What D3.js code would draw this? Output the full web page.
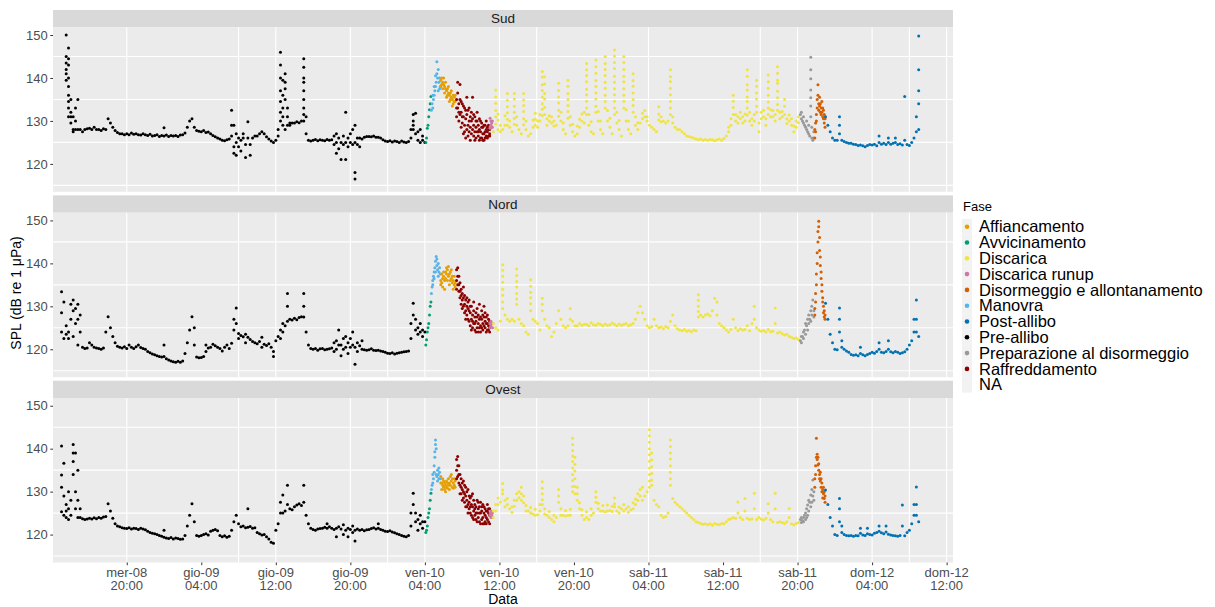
<!DOCTYPE html>
<html><head><meta charset="utf-8">
<script src="https://cdn.jsdelivr.net/npm/d3@7"></script>
<style>body{margin:0;background:#fff;} svg{display:block;font-family:"Liberation Sans",Arial,sans-serif;}</style>
</head><body><svg id="c" width="1215" height="607"></svg>
<script>
// ---------------- DATA ----------------
const phaseNames = ["Affiancamento","Avvicinamento","Discarica","Discarica runup","Disormeggio e allontanamento","Manovra","Post-allibo","Pre-allibo","Preparazione al disormeggio","Raffreddamento","NA"];
const phaseColors = ["#E69F00","#009E73","#F0E442","#CC79A7","#D55E00","#56B4E9","#0072B2","#000000","#999999","#8B0000",null];
const panelNames = ["Sud","Nord","Ovest"];

// time-ordered phase segments (same for all hydrophones)
const segPhase = ["Pre-allibo","Avvicinamento","Manovra","Affiancamento","Raffreddamento","Discarica runup","Discarica","Preparazione al disormeggio","Disormeggio e allontanamento","Post-allibo"];
const segStart = ["2022-06-08 13:00","2022-06-10 04:06","2022-06-10 04:42","2022-06-10 05:42","2022-06-10 07:24","2022-06-10 11:00","2022-06-10 11:21","2022-06-11 20:18","2022-06-11 21:51","2022-06-11 23:00"];
const segEnd   = ["2022-06-10 04:00","2022-06-10 04:39","2022-06-10 05:39","2022-06-10 07:15","2022-06-10 10:57","2022-06-10 11:15","2022-06-11 20:06","2022-06-11 21:45","2022-06-11 22:57","2022-06-12 09:00"];

const xDomain = ["2022-06-08 12:05","2022-06-12 12:41"];
const yDomain = [113.5, 151.8];
const yTicks = [120,130,140,150];
const yGrid = [115,125,135,145];
const xGridTimes = ["2022-06-08 20:00","2022-06-09 08:00","2022-06-09 12:00","2022-06-09 20:00","2022-06-10 00:00","2022-06-10 04:00","2022-06-10 12:00","2022-06-10 16:00","2022-06-11 04:00","2022-06-11 16:00","2022-06-11 20:00","2022-06-12 04:00","2022-06-12 08:00","2022-06-12 12:00"];
const xTickTimes = ["2022-06-08 20:00","2022-06-09 04:00","2022-06-09 12:00","2022-06-09 20:00","2022-06-10 04:00","2022-06-10 12:00","2022-06-10 20:00","2022-06-11 04:00","2022-06-11 12:00","2022-06-11 20:00","2022-06-12 04:00","2022-06-12 12:00"];
const xTickDay  = ["mer-08","gio-09","gio-09","gio-09","ven-10","ven-10","ven-10","sab-11","sab-11","sab-11","dom-12","dom-12"];
const xTickHour = ["20:00","04:00","12:00","20:00","04:00","12:00","20:00","04:00","12:00","20:00","04:00","12:00"];

// ---- Sud ----
const sudPre = [null,null,[145,150,143.5,142,141,139.5],[147,144.5,143,140,138,136,134.5,133,131],
[135,131,132,129.5],[131,128,127.5],[133,130,128],[135,128],
128,127.5,128,128.2, 128.3,128,128.5,128, 128,127.8,128.2,128, 130.5,129.5,128.5,127.8,
127.3,127,127,126.8, 127,126.8,127.2,126.9, 127,126.8,126.7,127, 126.8,126.6,126.9,126.5,
126.6,126.8,126.4,126.6, [126.5,128.4],126.7,126.4,126.6, 126.5,126.6,126.4,126.7, 126.8,127.2,128.5,130,
130.5,128.5,127.8,127.6, 127.5,127.8,127.3,127.4, 127,126.6,126.3,126, 125.8,125.5,125.4,125.6,
125.8,[126.5,132.5,129],[124,129,122.5],[125,122,127], [124,126],[125.5,123],[127,126],[124.5,121.5],
[129.8,126],[124.5,122],126,126.5, 126.5,127,127.5,127, 126.3,125.8,125.3,125,
125.5,[126.5,128],[130,132,134.5,137,140,143,146],[129,131,133,136,139.5], [128,141,139,137.5,135],[133,129,131],[129,129.5],129.5,
129.5,129.8,129.6,130, [130,131.5,133,135,137,139,140,142.5,144.5],[131,127],125.5,125.3,
125.5,125.7,125.4,125.6, 125.5,125.4,125.7,125.5, 125.6,[124.5,126.5],[125,122.5,127],[126,123.5],
[125,121],[124.5,126.5],[132,121,125],[126,124], [125,127],[124.5,128],[125,129,118,116.5],[124.5,126],
[124,126],125.8,126.2,126.4, 126.4,126.3,126.5,126.2, 126.2,126,125.6,125.3, 125.2,125.4,125.1,125.3,
125.2,125,125.3,125.1, 125,125.2,[126,128],[128,131.5,129,130], [131.8,127],[125.5,127.5],[125,128],[125.5,126.5], 125];
const sudAvv = [125,126,128.3,129,131,132.6,134,135.7];
const sudMan = [132.5,134,[133,136],135,[136,138],137,[138,140.5],139,[141,143.8],140,[142,137],139,[140,137.5],138];
const sudAff = [[139.5,138],[140,138.5],[139,137.5],[138.5,140],[138,136.5],[137.5,139],[137,135.5],[137.5,136],[136.5,138],[136,134.5],[136.5,135],[135.5,137],[135,133.5],[136,134],[135.5,134.5],[134.5,136]];
const sudRaf = [[131,135,133],[139,133,136.5],[134,130,132],[138.5,131.5,135],[132,128.5,134.5],[129.5,134,131],[127,131,133.5],[133,129,127.5],[126,130.5,132.5],[131.5,128,135.5],[129,132.5,126.5],[127.5,130,133],[125.5,128.5,131],[130,127,132],[135.5,128,130.5],[129,126.5,131.5],[127.5,131,125.5],[128.5,126,130],[130,127.5,132],[126.5,129,127.5],[128,125.5,130.5],[127.5,130,126],[126,128.5,129.5],[128.5,127,125.5],[127,125.5,129],[129,127.5,126],[126.5,128,130],[127.5,126,128.5],[128,129,126.5],[127,126.5,128]];
const sudRun = [[128.3,130.6],[129,130],[128.5,129.5],[130,128.5]];
const sudDis = [127.5,[137.2,135.6,134.1,132.4,131,129.3],[128,130.2,131.6],[127.5,129],
128,[129,131.2],[136.4,134.8,133.3,131.9,130.4,129],[128.5,130],
127.5,[136.4,135.1,133.4,132,130.6,129.2],[129,131],128,
127,[136.4,134.9,133.6,132.2,130.5,129.1],[128,130],126.5,
127,[128.5,130.2],[131.8,130.4,129],[130,128.5],
[130,131.5],[141.5,140.2,138.4,137.1,135.6,134,132.7,131.2],[140.3,138.6,136.4,135.1,133.2,131.5],[130.5,129],
[130,131.2],[129.5,131],[130,128.8],129,
[138.8,137.1,135.6,134.2,132.5,131.1],[130,132],[128,129.5],127,
[139.5,138.1,136.4,135,133.6,132.2,130.6],[129,131],[127.5,129.2],126.5,
[127,128.8],[128.5,130.4],[130,131.6],[132,129.5],
[143.4,141.9,140.6,139.1,137.4,136.1,134.6,133,131.5],[129,131.5],[127.5,129.8],127,
[144.2,142.6,141.1,139.4,138,136.5,135.1,133.4,132],[130,132.2],[128,130],127,
[145,143.4,142,140.6,139,137.6,136,134.5,133],[130,132.4],[128.5,130.6],127,
[146.5,145.1,143.6,142.2,140.4,139,137.5,136.1,134.6,133,131.5],[129.5,132],[128,130.1],126.5,
[145,143.6,142,140.4,139.1,137.5,136,134.6,133],[130,132.6],[128,130],127,
[141,139.4,138.1,136.5,135,133.6,132],[129,131],[128,129.6],129.5,
[131.8,130.5],[131,132.4],[130,131],129,
128.5,128,127.5,[133.3,131.6,130.2],
[131,129.8],130,129.5,130,
[141.9,140.3,139.2,137.6,136.1,134.5,133,131.5],[129.5,131],128.5,128,
128,127.5,127,126.5, 126.4,126.2,126,125.8, 125.6,125.8,125.5,125.7, 125.5,125.7,125.6,125.4, 125.6,125.8,125.5,125.9,
126.5,[127.5,128.5],[129,130.5],[136,134.6,133.1,131.5],
[130,131.5],[129.5,131],[130.5,132],[131,129.5],
[130,131.6],[141.9,140.4,138.4,137.2,135.6,134.5,133,131.4],[130,132],[129,130.5],
[130,131.5],[139.5,138.1,136.5,135.1,133.4,132],[127.5,129.5],[130.5,132],
[131,132.5],[130.5,129],[140.7,139.1,137.6,136,134.4,133,131.5],[131,132.6],
[131,132.4],[131.5,130],[142.6,141.1,139.5,138.8,136.9,135.4,133.8,132.5],[130.5,132],
[131,132.2],[135,133.4,131.5],[130.5,129.4],[130,131.4],
[129,130.5],[127.5,128.8],[128.5,130],[131,129.6]];
const sudPrep = [131.5,[130.5,132],130,[129.5,131],129,128.5,[128,130],127.5,[127,129],126.5,[144.8,141.9,139.8,137.2,135.4,133.5,131],[126,128.5],125.5,[126,127.5]];
const sudDiso = [[126,128],[127.5,129.5],[130,131.5],[133,135],[136,138.4],[134,132.5],[133.5,135.5],[132,134],[133,131.5],[134.5,132],[131,133],[130.5,132.5],[131.5,129.5],[130.5,128.5]];
const sudPost = [131,129,127.5, 126,125.5,125.5, [131,129,127],125.5, 125.2,125,124.8,
124.8,124.6,124.5,124.3,124.4,124.2,124,124.3,124.5,124.4,124.6,124.2, [126.5,125],
124.6,124.8,124.5,[126,125],124.6,124.8,[126,125],124.5,124.7,124.4,[135.7,125.5],124.5,124.3,125,126,[127.5,131],[149.8,141.9,137,134,128]];

// ---- Nord ----
const nordPre = [[133.4,128.5,124],[131,122.5],[123.5,125.5],[122.5,124],
[130.5,127],[131.5,129,123],[129.5,126],[130.5,127,121],
[128,124],120.5,120.2,120.3, 121.5,121,120.5,120.3, 120.2,120,120.3,124, 127.6,125,123,121.5,
120.7,120.5,120.3,120.6, 120.2,121,120.5,120.2, 120.6,121,120.4,120.2, 120,119.5,119.2,118.9,
118.7,118.5,118.3,118.2, [121,118.3],117.8,117.5,117.3, 117.1,117,117.2,117, 117.3,119,121.5,124.5,
127.6,[125,121],118.2,118, 118.1,118.3,[119.5,121],120.3, 120.5,121.2,120.8,120.5, 120.2,119.6,120.5,121,
120.2,121.4,[124.5,127],[129.6,126], [123.7,122.5],123.2,122.9,[123.5,121.5], 122.8,122.3,121.8,121.5, 121.3,121.8,[122.8,120.5],121.2,
120.9,121.3,120.5,[118.3,119.5], 122,123,[124.5,122.5],[126,124], 125.5,[133,130,126.5],127,126.8, 127.2,126.9,127.4,127.6,
[133,130,127.5],124,121,120.2, 120,120.2,119.8,120.1, 120.2,119.9,120,120.1, 120.3,[121.5,119.5],[122,120],[124.5,121],
[121,118.5],[122.5,120],[120.5,123],[121.5,119], [120.5,122.5],[121,124],[116.5,120.5],[121.5,119.5], 120.8,[122,120],119.9,119.8,
119.9,120.1,119.8,119.7, 119.8,119.6,119.5,119.3, 119.1,119,119.2,118.9, 119.1,119.2,119.3,119.4,
119.5,119.6,[122.5,126],[130.7,128], [124.5,127],[125,123.5],[124,126],[124.5,123], 124];
const nordAvv = [121,122.2,124,125,126,128,130,131];
const nordMan = [133,134.5,[135,136],137,[138,136.5],139,[140.5,138],141.6,[139.5,141],138.5,[137,140],138,139,137.5];
const nordAff = [[136,135],[137.5,135.5],[136.5,134.5],[137,138],[136,134],[138,136.5],[137.5,139],[136,138.5],[139.3,137],[137.5,135],[138,136],[136.5,138.5],[135.5,137],[136,134],[137,135],[135.5,134.5]];
const nordRaf = [[138.5,136,134],[139,135,137],[137,133.5,135],[135.5,132,133.5],[134,130.5,132.5],[133,131.5,129.5],[132,134.5,130],[130.5,128.5,132.5],[131.5,129,127],[128,130,132],[129.5,127,131],[126.5,131.5,129],[128.5,125.5,130],[127,130,124.5],[125,128,126.5],[129,126,131],[124.5,127.5,126],[126.5,128.5,124],[127.5,125,129.5],[124,126,128],[130.5,127,125],[125.5,124,127.5],[127,129,125],[126,124.5,128],[130,127.5,125.5],[125,126.5,128.5],[127.5,124,126],[126,128,124.5],[124.5,125.5,127],[126.5,125,124]];
const nordRun = [[126,125],[125.5,126.5],126,[125,126]];
const nordDis = [126,125,124.5,126.5,
[139.7,138.4,137,135.6,134,132.6,131,129.5],128,127,126.5,
127,126.5,[138.7,137.2,135.8,134.5,133,131.7,130.5],127,
126,125.5,124,123.5,
[136.2,134.7,133.3,132,130.6,129],127,126.5,126,
124.5,[131.9,130.5,129],127,125.5,
125,123,124,126, 129,127,125.5,125,
125.5,[129.5,127],126.5,125.5, 125.5,126,125.6,125.8, 125.8,125.5,126.2,125.7, 125.6,126,125.8,125.5,
125.9,125.6,125.7,126.1, 125.8,125.5,125.9,125.6, 125.8,126,125.5,125.7, 126,127,128.5,130,
128.5,127,125.5,125, 125.3,127,125.5,125, 125.2,124.8,125.3,125, 126.5,128,125.5,124.8,
124.5,124.3,124.6,124.2, 124.4,124.1,124.5,124.3, [132.7,131.4,130,128.8,127.5],128,127.5,128, 128.2,127.8,129,131.9,
[131,128],126,125.5,125, 124.5,124,124.6,127, 125,124.4,124.8,124.5, 124.6,125.5,124.3,126,
[130,127],125,124.5,124.2, 124.4,124,124.6,124.1, 124.2,[129.6,126],123.8,124, 123.6,123.3,123.5,123, 122.8,122.5,122.6,122.3];
const nordPrep = [122,[121.5,123],123,[124,122.5],124.5,[126,123.5],125.5,[127,124.5],[128,126],127,[129,126.5],[130,128],131.5,[129,127.5]];
const nordDiso = [[128,129.5],[131,133],[135,137.5],[140,142.5],[145,147.4],[149.8,148.5],[146,143],[141.5,139.5],[138,136.5],[135,133.5],[132,131],[130,128.5],[127.5,129],[127,128]];
const nordPost = [130.7,127,123.5,121.5,120,119.9,[129.6,127,124],[122,120.5], 120,119.6,119.3,
118.8,118.6,118.7,118.5,[120.5,119],118.7,118.5,118.8,119,119.3,119.1,119.5,[121.5,120],119.3,119.2,119.5,[122,120],119.4,119.2,119.5,119.3,119,119.2,119.4,120,
121,122,[124,127],[131.5,127,124],123];

// ---- Ovest ----
const ovestPre = [[140.6,133.9,131,125.3],[136.6,129,124.5],[127,124,125.5],[126,123.5,130],
[128,124.5],[141,139,137,134],[139,130,126],[135,128,124],
[124,126],123.7,123.5,123.6, 123.8,123.6,123.9,123.7, 124,123.8,124.1,124.2, 127.2,125.5,123.8,122.5,
122,121.8,121.6,121.5, 121.4,121.6,121.3,121.5, 121.4,121.2,121.5,121.3, 121.1,120.8,120.5,120.3,
120.2,120,119.8,119.6, [121,119.4],119.2,119.1,119.3, 119,119.2,119.1,118.9, 119,119.8,122,124.5,
127.2,123,119.8,119.6, 119.8,120,120.2,119.9, 120.8,121,121.2,120.9, 119.8,119.5,119.7,119.4,
119.6,121,123,124.5, 122.5,121.8,122,121.6, [126,121.7],121.9,121.5,121.6, 120.5,120.2,119.9,120,
119.5,119,118.2,118, 121,122.5,[125,127.5],[129.2,125], 125.5,[131.5,127],126,125.8, 126.5,126.9,127.2,126.8,
[131.5,127.5],124.5,122.5,121.5, 121.2,121,121.3,121.4, 121.5,121.7,[122.5,121.5],121.8, 121.5,121.2,[121.5,119.5],121.8,
121.3,[122.3,120],121,[119.5,121.5], 121.2,[120.5,122],[118.5,121],121.3, 121,121.2,120.9,121.1, 121.2,121.4,121.6,121.3,
[122.5,121.5],121.2,121,120.8, 120.7,120.9,120.6,120.4, 120.2,120,119.8,119.6, 119.5,119.8,[122,125],[129.6,127],
[123,125],[121,123.5],[122.5,124.5],[123,121.5], 123];
const ovestAvv = [120.5,121,122,124,125,126,128,129.6];
const ovestMan = [130.5,131.5,[132,134],133,[134.5,136],[138,139.3],[141,142],[140,134],133.5,[135,132.5],134,[133,135.5],134.5,133];
const ovestAff = [[133.5,132],[132,130.5],[131.5,133],[131,132.5],[130.5,132],[131.5,130],[132.5,131],[130.8,132],[131.5,133],[132,130.5],[133.5,131.5],[132.5,134],[131,133],[132,130.8],[133,131.5],[131,132.5]];
const ovestRaf = [[137.5,135,133],[138.2,133.5,136],[136,132,134],[134,131.5,129.5],[133,129.5,131],[132,130.5,128],[130,128.5,132.5],[131.5,127.5,129.5],[129,131,126.5],[128,126.5,130],[130.5,127,125],[126,129,127.5],[128.5,125,126.5],[127,124.5,129],[129.5,126.5,124],[125.5,128,123.5],[124.5,127,126],[126.5,123.5,125],[128,125,123],[124,126,127.5],[126.5,123,125],[125,127.5,122.5],[123.5,125.5,126.5],[127,124,122.5],[122.5,125,126.5],[126,124.5,123],[124,122.5,125.5],[125.5,127,123.5],[123,125,126],[124.5,126,122.5]];
const ovestRun = [[124.5,125],[124,125.5],124.5,[125,124]];
const ovestDis = [[124,125.5],[125.5,127],[127,128.5],127.6,
[131.9,130.4,129.5],[128,126.5],[127,128.4],126,
[126.5,125.2],[128,126.6],[129.5,128],[130,128.6],
[131,129.5,128],[129,127.4],[125.5,126.8],125.5,
[125,126.3],124.8,[124.5,125.9],124.6,
[125.5,127],[132.3,130.8,129.5,128.1,127],[126,124.8],124.5,
[124,125.4],123.5,[123,124.5],124,
[130.5,129,127.5],[124.5,126],124.5,[124.3,125.6],
124.5,[124.5,125.9],[142.4,141,139.6,138.3,137,135.5,134,132.6,131.2,130],[138,136.4,134.8,133,131.2,129.5],
[131,129.5,128],[126,127.4],[124.5,125.8],123.5,
[124,125.3],123.5,[124.5,126],125,
[130,128.7,127.5],[126,127.3],125.5,[125.5,126.8],
125.3,[125.5,126.9],125.6,[125.4,126.6],
[128.5,127.2,126.5],125.5,[125,126.4],126,
[125.5,127],126,[125.2,126.5],125.8,
[126,127.4],[127,128.3],[128,129.5],[130.5,129],
[131,128],129,130,[144.4,143,141.5,140,138.6,137.1,135.5,134,132.5,131],
[139,137.4,135.8,134.2,132.7,131.5],128,127,126.5,
124.5,124,124.2,125,
[142,140.5,139,137.6,136,134.5,133,131.5],128.4,127.5,127,
126.5,126,125.5,125, 124.5,124,123.5,123, 122.8,122.6,122.4,122.5, 122.3,122.5,122.2,122.6, 122.4,122.3,122.6,122.5,
123,123.5,123.7,124, 123.8,[127.6,125],124,123.5, [128.4,125.5],123.8,123.5,123.6, [129.6,126],123.5,124,123.6,
123.4,123.8,[127.2,125],123.5, 123,[129.6,126],122.8,123, 122.8,122.6,123,[126.1,124], 122.5,122.3,122.6,122.8];
const ovestPrep = [123.5,[122.8,124],123.3,[124,123],124.5,[123.5,125],[126,124],[126.9,124.5],[128,125.5],127.5,[129.2,126.5],[130.5,127.5],[132.7,129],[130,128]];
const ovestDiso = [[131,133],[134,136],[138,142.4],[138.7,137.5],[136.2,138],[135,136.5],[134,133],[132.5,134.5],[131,133],[130,132],[128.5,130.5],[129.5,131],[128.4,130],[129,127.5]];
const ovestPost = [130.4,127,124,122,120,119.8,[128.4,126,123],[122,120.5], 120,119.8,119.7,
119.8,119.6,119.8,119.7,[121.5,120.3],119.9,119.8,[121.5,120.2],120,119.9,120.3,120.5,[122,120.8],120.4,120.2,[122,120.6],120.1,119.9,119.8,119.7,119.6,119.8,[126.9,122],119.7,120.5,
121,122.5,[124.5,127],[131.1,127,124.5],123];

const panelSeries = {
  "Sud":   [sudPre,sudAvv,sudMan,sudAff,sudRaf,sudRun,sudDis,sudPrep,sudDiso,sudPost],
  "Nord":  [nordPre,nordAvv,nordMan,nordAff,nordRaf,nordRun,nordDis,nordPrep,nordDiso,nordPost],
  "Ovest": [ovestPre,ovestAvv,ovestMan,ovestAff,ovestRaf,ovestRun,ovestDis,ovestPrep,ovestDiso,ovestPost]
};

// ---------------- DRAW ----------------
const svg = d3.select("#c");
const parse = d3.timeParse("%Y-%m-%d %H:%M");
const color = d3.scaleOrdinal().domain(phaseNames).range(phaseColors);
const x = d3.scaleTime().domain(xDomain.map(parse)).range([53, 953]);
const bodyTop = [27.3, 212.7, 398.0], bodyH = 164.5, stripH = 17.3;

panelNames.forEach((name, pi) => {
  const top = bodyTop[pi];
  const y = d3.scaleLinear().domain(yDomain).range([top + bodyH, top]);
  const g = svg.append("g");
  g.append("rect").attr("x", 53).attr("y", top - stripH).attr("width", 900).attr("height", stripH).attr("fill", "#D9D9D9");
  g.append("text").attr("x", 503).attr("y", top - stripH / 2).attr("dy", "0.35em")
    .attr("text-anchor", "middle").attr("font-size", 13.5).attr("fill", "#1A1A1A").text(name);
  g.append("rect").attr("x", 53).attr("y", top).attr("width", 900).attr("height", bodyH).attr("fill", "#EBEBEB");
  g.selectAll("line.gy").data(yGrid).join("line")
    .attr("x1", 53).attr("x2", 953).attr("y1", d => y(d)).attr("y2", d => y(d))
    .attr("stroke", "#fff").attr("stroke-width", 1.1);
  g.selectAll("line.gx").data(xGridTimes).join("line")
    .attr("x1", d => x(parse(d))).attr("x2", d => x(parse(d))).attr("y1", top).attr("y2", top + bodyH)
    .attr("stroke", "#fff").attr("stroke-width", 1.1);
  const ay = g.append("g").attr("transform", "translate(53,0)")
    .call(d3.axisLeft(y).tickValues(yTicks).tickSize(2.7).tickPadding(2.5));
  ay.select(".domain").remove();
  ay.selectAll("line").attr("stroke", "#333");
  ay.selectAll("text").attr("font-size", 13).attr("fill", "#4D4D4D").attr("font-family", "Liberation Sans, Arial, sans-serif");
  const pts = [];
  segPhase.forEach((ph, si) => {
    const vals = panelSeries[name][si];
    const t0 = parse(segStart[si]).getTime(), t1 = parse(segEnd[si]).getTime();
    const n = vals.length;
    vals.forEach((v, i) => {
      if (v == null) return;
      const t = new Date(n > 1 ? t0 + (t1 - t0) * i / (n - 1) : t0);
      [].concat(v).forEach(val => pts.push({ t, val, ph }));
    });
  });
  g.selectAll("circle.pt").data(pts).join("circle")
    .attr("cx", d => x(d.t)).attr("cy", d => y(d.val)).attr("r", 1.5)
    .attr("fill", d => color(d.ph));
});

const bottom = bodyTop[2] + bodyH;
const ax = svg.append("g").attr("transform", `translate(0,${bottom})`)
  .call(d3.axisBottom(x).tickValues(xTickTimes.map(parse)).tickSize(2.7).tickFormat(() => ""));
ax.select(".domain").remove();
ax.selectAll("line").attr("stroke", "#333");
xTickTimes.forEach((s, i) => {
  const t = svg.append("text").attr("x", x(parse(s))).attr("text-anchor", "middle")
    .attr("font-size", 13).attr("fill", "#4D4D4D");
  t.append("tspan").attr("x", x(parse(s))).attr("y", bottom + 14).text(xTickDay[i]);
  t.append("tspan").attr("x", x(parse(s))).attr("y", bottom + 27.3).text(xTickHour[i]);
});

svg.append("text").attr("x", 503).attr("y", 604).attr("text-anchor", "middle")
  .attr("font-size", 14).attr("fill", "#000").text("Data");
svg.append("text").attr("transform", "translate(21,293) rotate(-90)").attr("text-anchor", "middle")
  .attr("font-size", 14).attr("fill", "#000").text("SPL (dB re 1 \u03BCPa)");

const lg = svg.append("g");
lg.append("text").attr("x", 963).attr("y", 210.5).attr("font-size", 13).attr("fill", "#000").text("Fase");
const rowY = i => 226.7 + i * 15.8;
lg.selectAll("rect.k").data(phaseNames).join("rect")
  .attr("x", 962).attr("y", (d, i) => rowY(i) - 7.9).attr("width", 10).attr("height", 15.8).attr("fill", "#F2F2F2");
lg.selectAll("circle.k").data(phaseNames.filter(p => color(p))).join("circle")
  .attr("cx", 967).attr("cy", d => rowY(phaseNames.indexOf(d))).attr("r", 2.3).attr("fill", d => color(d));
lg.selectAll("text.k").data(phaseNames).join("text")
  .attr("x", 979).attr("y", (d, i) => rowY(i)).attr("dy", "0.35em")
  .attr("font-size", 16.5).attr("fill", "#000").text(d => d);
</script></body></html>
